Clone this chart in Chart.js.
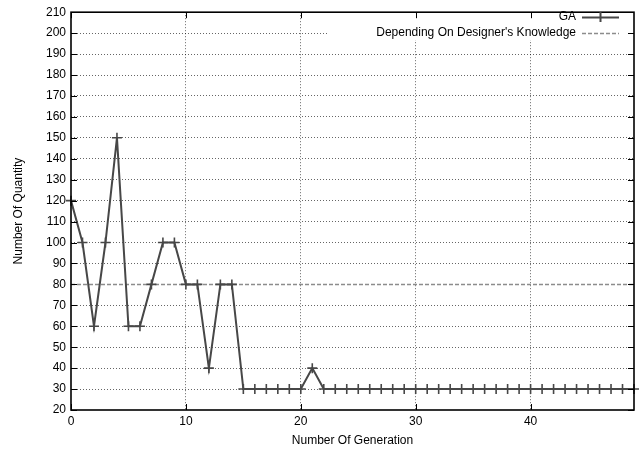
<!DOCTYPE html>
<html>
<head>
<meta charset="utf-8">
<script src="https://cdn.jsdelivr.net/npm/chart.js@4.4.0/dist/chart.umd.min.js"></script>
<style>
  html, body { margin: 0; padding: 0; background: #fff; }
  #wrap { width: 643px; height: 454px; }
</style>
</head>
<body>
<div id="wrap"><canvas id="chart"></canvas></div>
<script>
const generations = [0, 1, 2, 3, 4, 5, 6, 7, 8, 9, 10, 11, 12, 13, 14, 15, 16, 17, 18, 19,
    20, 21, 22, 23, 24, 25, 26, 27, 28, 29, 30, 31, 32, 33, 34, 35, 36, 37, 38, 39,
    40, 41, 42, 43, 44, 45, 46, 47, 48, 49]
const gaValues = [120, 100, 60, 100, 150, 60, 60, 80, 100, 100, 80, 80, 40, 80, 80, 30, 30, 30, 30, 30,
    30, 40, 30, 30, 30, 30, 30, 30, 30, 30, 30, 30, 30, 30, 30, 30, 30, 30, 30, 30,
    30, 30, 30, 30, 30, 30, 30, 30, 30, 30]
const designerX = [0, 49]
const designerY = [80, 80]
const xTicks = [0, 10, 20, 30, 40]
const yMin = 20, yMax = 210, yStep = 10

const FONT = 'Liberation Sans, Arial, sans-serif'
const lineColor = '#474747'
const dashColor = '#8c8c8c'

// gnuplot-like frame, inward ticks and legend box
const framePlugin = {
    id: 'frame',
    afterDatasetsDraw(chart) {
        const { ctx, chartArea: a, scales } = chart
        const xs = scales.x, ys = scales.y
        ctx.save()
        // legend box covers grid
        const boxLeft = 328, boxBottom = 40
        ctx.fillStyle = '#fff'
        ctx.fillRect(boxLeft, a.top + 1, a.right - boxLeft - 1, boxBottom - a.top - 1)

        // inward ticks
        ctx.strokeStyle = '#000'
        ctx.lineWidth = 1
        ctx.beginPath()
        xTicks.forEach(v => {
            const px = Math.round(xs.getPixelForValue(v)) + 0.5
            ctx.moveTo(px, a.bottom); ctx.lineTo(px, a.bottom - 6)
            ctx.moveTo(px, a.top); ctx.lineTo(px, a.top + 6)
        })
        for (let v = yMin; v <= yMax; v += yStep) {
            const py = Math.round(ys.getPixelForValue(v)) + 0.5
            ctx.moveTo(a.left, py); ctx.lineTo(a.left + 6, py)
            ctx.moveTo(a.right, py); ctx.lineTo(a.right - 6, py)
        }
        ctx.stroke()

        // frame
        ctx.lineWidth = 1.6
        ctx.strokeRect(a.left, a.top, a.right - a.left, a.bottom - a.top)

        // legend
        ctx.font = '12px ' + FONT
        ctx.fillStyle = '#000'
        ctx.textAlign = 'right'
        ctx.textBaseline = 'middle'
        const textRight = 576, sx0 = 582, sx1 = 619
        chart.data.datasets.forEach((ds, i) => {
            const y = 17 + i * 16
            ctx.fillText(ds.label, textRight, y)
            ctx.beginPath()
            ctx.strokeStyle = ds.borderColor
            ctx.lineWidth = ds.borderWidth
            ctx.setLineDash(ds.borderDash || [])
            ctx.moveTo(sx0, y + 0.5); ctx.lineTo(sx1, y + 0.5)
            if (ds.pointRadius > 0) {
                const cx = (sx0 + sx1) / 2
                ctx.moveTo(cx, y - 5); ctx.lineTo(cx, y + 5)
            }
            ctx.stroke()
            ctx.setLineDash([])
        })
        ctx.restore()
    }
}

new Chart(document.getElementById('chart').getContext('2d'), {
    type: 'line',
    data: {
        datasets: [
            {
                label: 'GA',
                data: generations.map((g, i) => ({ x: g, y: gaValues[i] })),
                borderColor: lineColor,
                backgroundColor: lineColor,
                borderWidth: 2,
                pointStyle: 'cross',
                pointRadius: 5,
                pointBorderWidth: 1.6,
                pointHoverRadius: 5,
                tension: 0,
                clip: false,
            },
            {
                label: "Depending On Designer's Knowledge",
                data: designerX.map((x, i) => ({ x: x, y: designerY[i] })),
                borderColor: dashColor,
                backgroundColor: dashColor,
                borderWidth: 1.5,
                borderDash: [4, 2],
                pointRadius: 0,
                tension: 0,
            }
        ]
    },
    options: {
        responsive: true,
        maintainAspectRatio: false,
        animation: false,
        layout: { padding: { left: 0, right: 9, top: 7, bottom: 0 } },
        plugins: {
            legend: { display: false },
            tooltip: { enabled: false }
        },
        scales: {
            x: {
                type: 'linear',
                min: 0,
                max: 49,
                afterFit: s => { s.height = 44 },
                afterBuildTicks: s => { s.ticks = xTicks.map(v => ({ value: v })) },
                ticks: { color: '#000', font: { family: FONT, size: 12 }, padding: 4, maxRotation: 0 },
                grid: {
                    drawTicks: false,
                    color: ctx => (ctx.tick && ctx.tick.value === 0) ? 'rgba(0,0,0,0)' : 'rgba(0,0,0,0.6)',
                    lineWidth: 1,
                },
                border: { display: false, dash: [1, 2] },
                title: { display: true, text: 'Number Of Generation', color: '#000', font: { family: FONT, size: 12 }, padding: { top: 4, bottom: 6 } }
            },
            y: {
                min: yMin,
                max: yMax,
                afterFit: s => { s.width = 71 },
                ticks: { stepSize: yStep, color: '#000', font: { family: FONT, size: 12 }, padding: 5 },
                grid: {
                    drawTicks: false,
                    color: ctx => (ctx.tick && (ctx.tick.value === yMin || ctx.tick.value === yMax)) ? 'rgba(0,0,0,0)' : 'rgba(0,0,0,0.6)',
                    lineWidth: 1,
                },
                border: { display: false, dash: [1, 2] },
                title: { display: true, text: 'Number Of Quantity', color: '#000', font: { family: FONT, size: 12 }, padding: { top: 11, bottom: 0 } }
            }
        }
    },
    plugins: [framePlugin]
})
</script>
</body>
</html>
